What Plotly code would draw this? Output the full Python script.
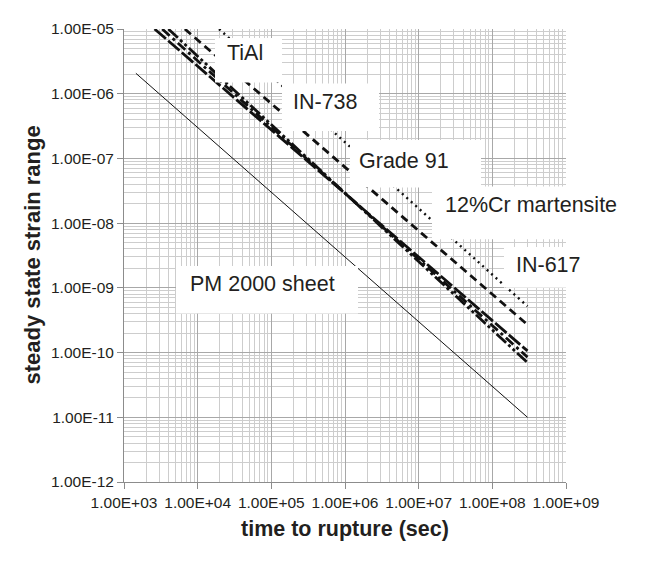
import plotly.graph_objects as go

# ---- data ----
time_ticks = [1e3, 1e4, 1e5, 1e6, 1e7, 1e8, 1e9]
time_tick_labels = ["1.00E+03", "1.00E+04", "1.00E+05", "1.00E+06",
                    "1.00E+07", "1.00E+08", "1.00E+09"]
strain_ticks = [1e-12, 1e-11, 1e-10, 1e-9, 1e-8, 1e-7, 1e-6, 1e-5]
strain_tick_labels = ["1.00E-12", "1.00E-11", "1.00E-10", "1.00E-09",
                      "1.00E-08", "1.00E-07", "1.00E-06", "1.00E-05"]

materials = ["TiAl", "IN-738", "Grade 91", "12%Cr martensite", "IN-617", "PM 2000 sheet"]
t_start = [3.3e3, 2.6e3, 4.0e3, 6.7e3, 1.95e4, 1.45e3]
t_end = [3.0e8, 3.0e8, 3.0e8, 3.0e8, 3.0e8, 3.0e8]
eps_start = [1.0e-5, 1.0e-5, 1.0e-5, 1.0e-5, 1.0e-5, 2.07e-6]
eps_end = [8.5e-11, 1.06e-10, 7.0e-11, 2.7e-10, 5.2e-10, 1.0e-11]

# ---- styles ----
dashes = ["10px,4px,3px,4px", "15px,3px", "13px,3px,3px,3px,3px,3px", "8px,5px", "2px,4px", "solid"]
widths = [2.8, 2.8, 2.8, 2.8, 2.4, 1]

W, H = 659, 566
L, R, T, B = 116, 101, 17, 92
PW, PH = W - L - R, H - T - B


def px(x):
    return (x - L) / PW


def py(y):
    return (H - B - y) / PH


fig = go.Figure()
for i, name in enumerate(materials):
    fig.add_trace(go.Scatter(
        x=[t_start[i], t_end[i]], y=[eps_start[i], eps_end[i]],
        mode="lines", name=name,
        line=dict(color="#111111", width=widths[i], dash=dashes[i]),
        showlegend=False, hoverinfo="skip"))

font_family = "Liberation Sans, Arial, Helvetica, sans-serif"

# white label boxes (pixel boxes: x0, y0, x1, y1)
boxes = [(207, 26, 274, 71), (274, 72, 371, 120), (342, 129, 473, 177),
         (424, 176, 558, 229), (496, 237, 558, 278), (168, 256, 350, 304)]
label_pos = [(237, 41), (317, 91), (396, 150), (523, 195), (540, 255), (254, 274)]

shapes = []
for (x0, y0, x1, y1) in boxes:
    shapes.append(dict(type="rect", xref="paper", yref="paper",
                       x0=px(x0), x1=px(x1), y0=py(y1), y1=py(y0),
                       fillcolor="white", line=dict(width=0), layer="above"))

annotations = []
for name, (cx, cy) in zip(materials, label_pos):
    annotations.append(dict(text=name, xref="paper", yref="paper",
                            x=px(cx), y=py(cy), xanchor="center", yanchor="middle",
                            showarrow=False,
                            font=dict(family=font_family, size=21.5, color="#231f20")))

annotations.append(dict(text="<b>time to rupture (sec)</b>", xref="paper", yref="paper",
                        x=0.5, y=py(521), xanchor="center", yanchor="middle",
                        showarrow=False,
                        font=dict(family=font_family, size=21.5, color="#231f20")))
annotations.append(dict(text="<b>steady state strain range</b>", xref="paper", yref="paper",
                        x=px(24), y=0.5, xanchor="center", yanchor="middle",
                        textangle=-90, showarrow=False,
                        font=dict(family=font_family, size=22, color="#231f20")))

axis_common = dict(
    type="log",
    showgrid=True, gridcolor="#a8a8a8", gridwidth=1.2,
    showline=True, linecolor="#8c8c8c", linewidth=1,
    ticks="outside", ticklen=6, tickcolor="#8c8c8c", tickwidth=1,
    tickfont=dict(family=font_family, size=15.5, color="#231f20"),
    zeroline=False,
    minor=dict(dtick="D1", showgrid=True, gridcolor="#cdcdcd", gridwidth=1.2, ticks=""),
)

fig.update_layout(
    width=W, height=H,
    margin=dict(l=L, r=R, t=T, b=B),
    paper_bgcolor="white", plot_bgcolor="white",
    xaxis=dict(range=[3, 9], tickmode="array", tickvals=time_ticks,
               ticktext=time_tick_labels, **axis_common),
    yaxis=dict(range=[-12, -5], tickmode="array", tickvals=strain_ticks,
               ticktext=strain_tick_labels, **axis_common),
    shapes=shapes,
    annotations=annotations,
)

fig.write_html("out.html")
